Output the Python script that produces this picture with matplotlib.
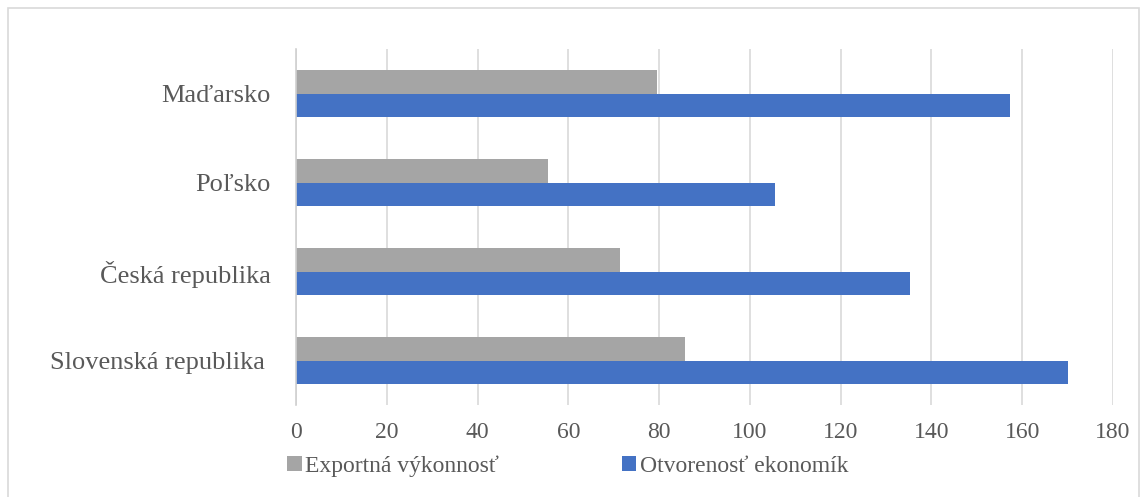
import matplotlib
matplotlib.use("Agg")
import matplotlib.pyplot as plt
from matplotlib.patches import Patch, Rectangle
import numpy as np

categories = ["Slovenská republika ", "Česká republika", "Poľsko", "Maďarsko"]
export_perf = [85.7, 71.4, 55.6, 79.6]
openness = [170.1, 135.3, 105.5, 157.3]
series_names = ["Exportná výkonnosť", "Otvorenosť ekonomík"]
xticks = [0, 20, 40, 60, 80, 100, 120, 140, 160, 180]

gray = "#a5a5a5"
blue = "#4472c4"
txt = "#595959"

plt.rcParams['font.family'] = ['Liberation Serif', 'DejaVu Serif']

fig = plt.figure(figsize=(11.47, 4.97), dpi=100)
ax = fig.add_axes([296/1147, 1-405/497, (1113-296)/1147, (405-49)/497])

y = np.arange(len(categories))
h = 0.26
ax.barh(y + h/2, export_perf, height=h, color=gray, zorder=3)
ax.barh(y - h/2, openness, height=h, color=blue, zorder=3)

ax.set_xlim(0, 180)
ax.set_ylim(-0.5, len(categories) - 0.5)
ax.set_xticks(xticks)
ax.set_xticklabels([str(t) for t in xticks], fontsize=17, color=txt)
ax.set_yticks(y)
ax.set_yticklabels(categories, fontsize=19, color=txt)
ax.tick_params(axis='x', length=0, pad=12)
ax.tick_params(axis='y', length=0, pad=18)
ax.grid(axis='x', color="#d9d9d9", linewidth=1.2, zorder=0)
for s in ['top', 'right', 'bottom']:
    ax.spines[s].set_visible(False)
ax.spines['left'].set_color("#d0d0d0")
ax.spines['left'].set_linewidth(1.2)
ax.spines['left'].set_zorder(4)

handles = [Patch(facecolor=gray, edgecolor='none'), Patch(facecolor=blue, edgecolor='none')]
leg = fig.legend(handles, series_names, loc='center left',
                 bbox_to_anchor=(287/1147, 1-466/497), ncol=2, frameon=False,
                 fontsize=17, handlelength=0.62, handleheight=0.62,
                 handletextpad=0.15, columnspacing=5.2, borderaxespad=0, borderpad=0)
for t in leg.get_texts():
    t.set_color(txt)

fig.patches.append(Rectangle((8/1147, -0.01), (1139-8)/1147, 1.01 - 8/497,
                             transform=fig.transFigure, fill=False,
                             edgecolor="#d9d9d9", linewidth=1.2))

fig.savefig("out.png", dpi=100)
